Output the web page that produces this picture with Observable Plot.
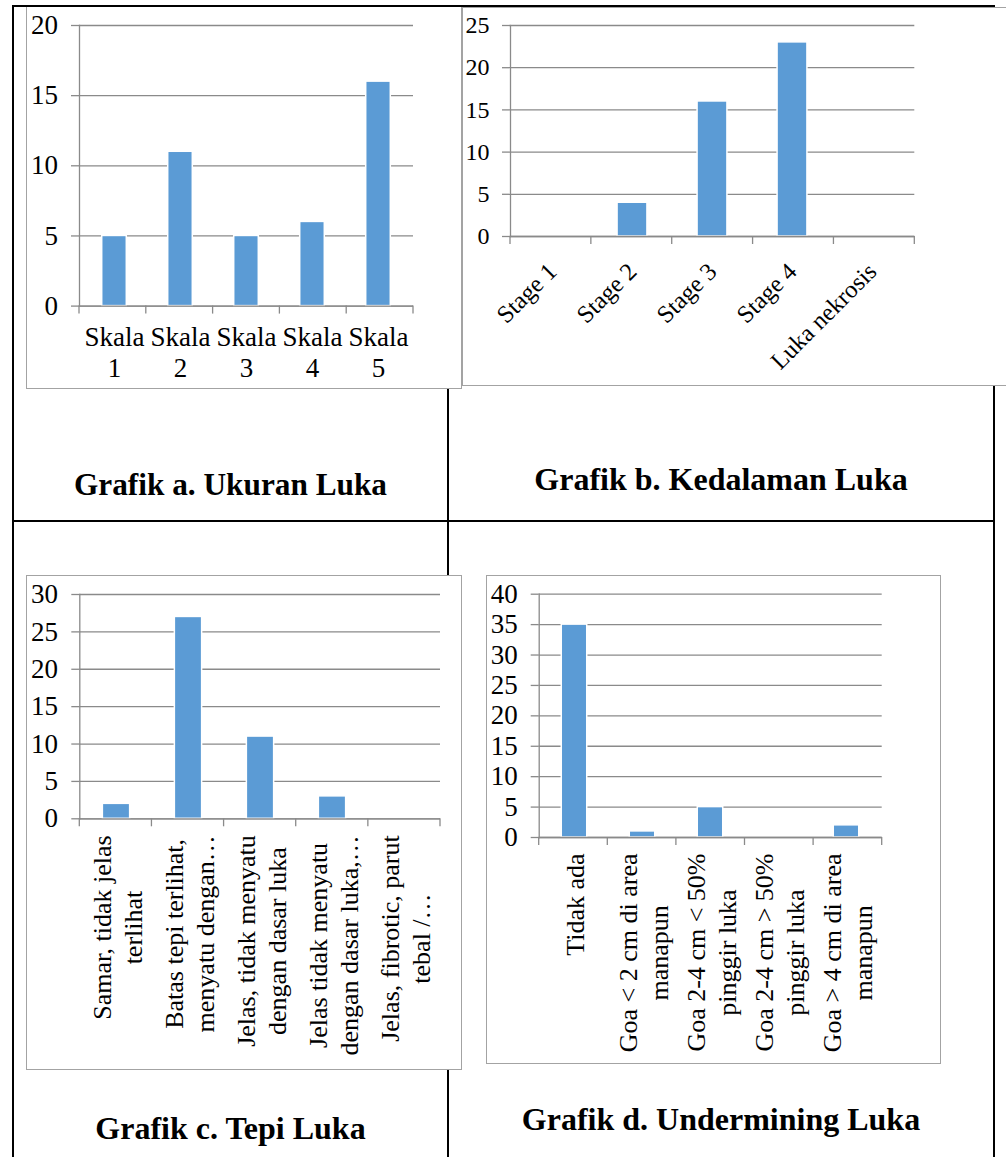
<!DOCTYPE html>
<html><head><meta charset="utf-8">
<script src="https://cdn.jsdelivr.net/npm/d3@7"></script>
<script src="https://cdn.jsdelivr.net/npm/@observablehq/plot@0.6"></script>
<style>
body{margin:0;background:#fff;}
#page{position:relative;width:1006px;height:1157px;overflow:hidden;font-family:"Liberation Serif","Times New Roman",serif;background:#fff;}
.line{position:absolute;background:#000;}
.box{position:absolute;background:#fff;border:1px solid #a3a3a3;box-sizing:border-box;}
.title{position:absolute;font-weight:bold;font-size:32px;line-height:31px;text-align:center;white-space:nowrap;color:#000;}
.chart{position:absolute;}
.chart svg{overflow:visible;}
</style></head><body>
<div id="page">
  <div class="line" style="left:447px;top:5px;width:2px;height:1152px"></div>
  <div class="line" style="left:993px;top:5px;width:2px;height:1152px"></div>
  <div class="line" style="left:12px;top:520px;width:983px;height:2px"></div>
  <div class="box" style="left:26px;top:6px;width:436px;height:383px"></div>
  <div class="box" style="left:462px;top:7px;width:560px;height:379px"></div>
  <div class="box" style="left:26px;top:575px;width:436px;height:495px"></div>
  <div class="box" style="left:486px;top:575px;width:455px;height:489px"></div>
  <div class="line" style="left:12px;top:5px;width:983px;height:2px"></div>
  <div class="line" style="left:12px;top:5px;width:2px;height:1152px"></div>
  <div class="chart" id="chartA" style="left:26px;top:6px"></div>
  <div class="chart" id="chartB" style="left:462px;top:7px"></div>
  <div class="chart" id="chartC" style="left:26px;top:575px"></div>
  <div class="chart" id="chartD" style="left:486px;top:575px"></div>
  <div class="title" id="titleA" style="left:13px;width:435px;top:469px;font-size:31.3px"></div>
  <div class="title" id="titleB" style="left:448px;width:546px;top:464px"></div>
  <div class="title" id="titleC" style="left:13px;width:435px;top:1113px"></div>
  <div class="title" id="titleD" style="left:448px;width:546px;top:1104px"></div>
</div>
<script>
// ---- data ----
const catsA = ["Skala 1", "Skala 2", "Skala 3", "Skala 4", "Skala 5"];
const valsA = [5, 11, 5, 6, 16];
const ticksA = [0, 5, 10, 15, 20];

const catsB = ["Stage 1", "Stage 2", "Stage 3", "Stage 4", "Luka nekrosis"];
const valsB = [0, 4, 16, 23, 0];
const ticksB = [0, 5, 10, 15, 20, 25];

const catsC = [
  "Samar, tidak jelas\nterlihat",
  "Batas tepi terlihat,\nmenyatu dengan…",
  "Jelas, tidak menyatu\ndengan dasar luka",
  "Jelas tidak menyatu\ndengan dasar luka,…",
  "Jelas, fibrotic, parut\ntebal /…"
];
const valsC = [2, 27, 11, 3, 0];
const ticksC = [0, 5, 10, 15, 20, 25, 30];

const catsD = [
  "Tidak ada",
  "Goa < 2 cm di area\nmanapun",
  "Goa 2-4 cm < 50%\npinggir luka",
  "Goa 2-4 cm > 50%\npinggir luka",
  "Goa > 4 cm di area\nmanapun"
];
const valsD = [35, 1, 5, 0, 2];
const ticksD = [0, 5, 10, 15, 20, 25, 30, 35, 40];

const titles = {
  titleA: "Grafik a. Ukuran Luka",
  titleB: "Grafik b. Kedalaman Luka",
  titleC: "Grafik c. Tepi Luka",
  titleD: "Grafik d. Undermining Luka"
};

// ---- style ----
const FONT = '"Liberation Serif","Times New Roman",serif';
const BLUE = "#5b9bd5";
const GRID = "#8a8a8a";

for (const k in titles) document.getElementById(k).textContent = titles[k];

const ctx = document.createElement("canvas").getContext("2d");
function textLen(s, fs) {
  ctx.font = `${fs}px ${FONT}`;
  return d3.max(s.split("\n"), l => ctx.measureText(l).width);
}

function edgeTicks(len) {
  return (index, scales, values, dims) => {
    const n = scales.x.domain().length;
    const x0 = dims.marginLeft;
    const bw = (dims.width - dims.marginLeft - dims.marginRight) / n;
    const y0 = dims.height - dims.marginBottom;
    const g = d3.create("svg:g").attr("stroke", GRID).attr("stroke-width", 1.3);
    for (let i = 0; i <= n; i++) {
      g.append("line").attr("x1", x0 + i * bw).attr("x2", x0 + i * bw)
        .attr("y1", y0).attr("y2", y0 + len);
    }
    return g.node();
  };
}

function barChart({cats, vals, ticks, width, height, ml, mr, mt, mb, fs, tickPad, labels}) {
  const data = cats.map((c, i) => ({cat: c, v: vals[i]}));
  const bw = (width - ml - mr) / cats.length;
  const inset = bw * 0.31;
  return Plot.plot({
    width, height,
    marginLeft: ml, marginRight: mr, marginTop: mt, marginBottom: mb,
    style: {fontFamily: FONT, fontSize: fs + "px", color: "#000", background: "transparent", overflow: "visible"},
    x: {domain: cats, padding: 0, axis: null, label: null},
    y: {domain: [0, d3.max(ticks)], axis: null, label: null},
    marks: [
      Plot.ruleY(ticks, {stroke: GRID, strokeWidth: 1.3}),
      Plot.axisY({ticks, tickSize: 8, tickPadding: tickPad, stroke: GRID, strokeWidth: 1.3, fill: "#000",
                  fontSize: fs, tickFormat: d => String(d), label: null}),
      Plot.frame({anchor: "left", stroke: GRID, strokeWidth: 1.3}),
      Plot.barY(data, {x: "cat", y: "v", fill: BLUE, stroke: "#fff", strokeWidth: 1.5,
                       insetLeft: inset, insetRight: inset}),
      Plot.ruleY([0], {stroke: GRID, strokeWidth: 1.3}),
      edgeTicks(8),
      ...labels
    ]
  });
}

function verticalLabels(cats, fs, gap) {
  return cats.map(c => Plot.text([c], {
    x: d => d, text: d => d, frameAnchor: "bottom", rotate: -90,
    textAnchor: "middle", lineAnchor: "middle", lineHeight: 1.2,
    dy: gap + textLen(c, fs) / 2, fontSize: fs, fill: "#000"
  }));
}

// Chart a
document.getElementById("chartA").append(barChart({
  cats: catsA, vals: valsA, ticks: ticksA,
  width: 435, height: 382, ml: 53, mr: 48, mt: 19, mb: 82.4, fs: 27, tickPad: 13.5,
  labels: [Plot.text(catsA, {x: d => d, text: d => d.replace(" ", "\n"), frameAnchor: "bottom",
    lineAnchor: "top", lineHeight: 1.15, dy: 18, fontSize: 27, fill: "#000"})]
}));

// Chart b
document.getElementById("chartB").append(barChart({
  cats: catsB, vals: valsB, ticks: ticksB,
  width: 544, height: 378, ml: 48, mr: 91.7, mt: 18, mb: 149, fs: 24, tickPad: 13,
  labels: [Plot.text(catsB, {x: d => d, frameAnchor: "bottom", rotate: -45,
    textAnchor: "end", lineAnchor: "middle", dx: 0, dy: 31, fontSize: 24.5, fill: "#000"})]
}));

// Chart c
document.getElementById("chartC").append(barChart({
  cats: catsC, vals: valsC, ticks: ticksC,
  width: 435, height: 494, ml: 53.3, mr: 21, mt: 19, mb: 250.7, fs: 27, tickPad: 13.8,
  labels: verticalLabels(catsC, 26, 16.5)
}));

// Chart d
document.getElementById("chartD").append(barChart({
  cats: catsD, vals: valsD, ticks: ticksD,
  width: 454, height: 488, ml: 52.7, mr: 58.3, mt: 18.7, mb: 226, fs: 27, tickPad: 13.5,
  labels: verticalLabels(catsD, 26, 16)
}));
</script>
</body></html>
